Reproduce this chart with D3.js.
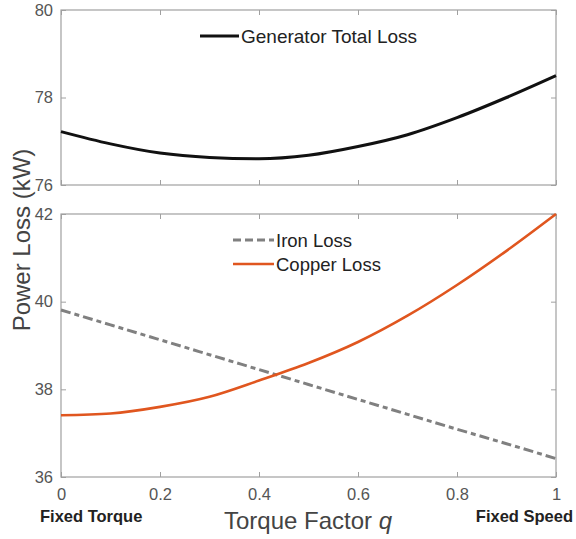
<!DOCTYPE html>
<html lang="en">
<head>
<meta charset="UTF-8">
<title>Power Loss vs Torque Factor</title>
<script src="https://d3js.org/d3.v7.min.js"></script>
<style>
  body { margin: 0; background: #fff; }
  text { font-family: "Liberation Sans", Arial, sans-serif; }
</style>
</head>
<body>
<div id="chart"></div>
<script>
// data
var q = [0, 0.1, 0.2, 0.3, 0.4, 0.5, 0.6, 0.7, 0.8, 0.9, 1.0];
var totalLoss = [77.22, 76.94, 76.73, 76.63, 76.6, 76.68, 76.88, 77.15, 77.54, 78.0, 78.5];
var ironLoss = [39.81, 39.47, 39.13, 38.79, 38.45, 38.11, 37.77, 37.43, 37.09, 36.76, 36.42];
var copperLoss = [37.41, 37.45, 37.6, 37.83, 38.2, 38.6, 39.08, 39.68, 40.38, 41.16, 42.0];
var xTicks = [0, 0.2, 0.4, 0.6, 0.8, 1];
var topTicks = [76, 78, 80];
var bottomTicks = [36, 38, 40, 42];

var width = 576, height = 539;
var left = 61, right = 556;

var svg = d3.select("#chart").append("svg")
    .attr("width", width)
    .attr("height", height);

var x = d3.scaleLinear().domain([0, 1]).range([left, right]);
var yTop = d3.scaleLinear().domain([76, 80]).range([185, 10]);
var yBot = d3.scaleLinear().domain([36, 42]).range([477, 214]);

// draws a matlab style box with ticks on all four sides
function drawBox(y, yt, showX) {
    var r = y.range();
    var g = svg.append("g");
    g.append("rect")
        .attr("x", left).attr("y", r[1])
        .attr("width", right - left).attr("height", r[0] - r[1])
        .attr("fill", "none").attr("stroke", "#a0a0a0").attr("stroke-width", 1.2);

    var ax = g.append("g").attr("transform", "translate(0," + r[0] + ")")
        .call(d3.axisBottom(x).tickValues(xTicks).tickSizeInner(-5).tickSizeOuter(0)
            .tickPadding(11).tickFormat(showX ? d3.format("") : ""));
    var axTop = g.append("g").attr("transform", "translate(0," + r[1] + ")")
        .call(d3.axisTop(x).tickValues(xTicks).tickSizeInner(-5).tickSizeOuter(0).tickFormat(""));
    var ay = g.append("g").attr("transform", "translate(" + left + ",0)")
        .call(d3.axisLeft(y).tickValues(yt).tickSizeInner(-5).tickSizeOuter(0)
            .tickPadding(8).tickFormat(d3.format("d")));
    var ayR = g.append("g").attr("transform", "translate(" + right + ",0)")
        .call(d3.axisRight(y).tickValues(yt).tickSizeInner(-5).tickSizeOuter(0).tickFormat(""));

    [ax, axTop, ay, ayR].forEach(function(a) {
        a.attr("font-size", null).attr("font-family", null);
        a.select(".domain").remove();
        a.selectAll("line").attr("stroke", "#a0a0a0");
        a.selectAll("text").attr("fill", "#555").style("font-size", "16.5px");
    });
}

drawBox(yTop, topTicks, false);
drawBox(yBot, bottomTicks, true);

function lineFor(y, vals) {
    return d3.line().curve(d3.curveMonotoneX)
        .x(function(d, i) { return x(q[i]); })
        .y(function(d) { return y(d); })(vals);
}

svg.append("path").attr("d", lineFor(yTop, totalLoss))
    .attr("fill", "none").attr("stroke", "#111").attr("stroke-width", 3);

svg.append("path").attr("d", lineFor(yBot, ironLoss))
    .attr("fill", "none").attr("stroke", "#808080").attr("stroke-width", 3)
    .attr("stroke-dasharray", "10,4,5,4");

svg.append("path").attr("d", lineFor(yBot, copperLoss))
    .attr("fill", "none").attr("stroke", "#e0561f").attr("stroke-width", 2.6);

// legends
svg.append("line").attr("x1", 200).attr("x2", 239).attr("y1", 36).attr("y2", 36)
    .attr("stroke", "#111").attr("stroke-width", 3);
svg.append("text").attr("x", 241).attr("y", 43).text("Generator Total Loss")
    .attr("fill", "#222").style("font-size", "19px");

svg.append("line").attr("x1", 233).attr("x2", 274).attr("y1", 240).attr("y2", 240)
    .attr("stroke", "#808080").attr("stroke-width", 3).attr("stroke-dasharray", "8,4");
svg.append("text").attr("x", 276).attr("y", 247).text("Iron Loss")
    .attr("fill", "#222").style("font-size", "18.5px");

svg.append("line").attr("x1", 233).attr("x2", 274).attr("y1", 264).attr("y2", 264)
    .attr("stroke", "#e0561f").attr("stroke-width", 2.6);
svg.append("text").attr("x", 276).attr("y", 271).text("Copper Loss")
    .attr("fill", "#222").style("font-size", "18.5px");

// axis labels
svg.append("text")
    .attr("transform", "translate(30,240) rotate(-90)")
    .attr("text-anchor", "middle")
    .attr("fill", "#444").style("font-size", "24px")
    .text("Power Loss (kW)");

var xl = svg.append("text").attr("x", 308).attr("y", 529)
    .attr("text-anchor", "middle").attr("fill", "#444").style("font-size", "24px");
xl.append("tspan").text("Torque Factor ");
xl.append("tspan").attr("font-style", "italic").text("q");

svg.append("text").attr("x", 40).attr("y", 522).text("Fixed Torque")
    .attr("fill", "#222").attr("font-weight", "bold").style("font-size", "16.5px");
svg.append("text").attr("x", 573).attr("y", 522).attr("text-anchor", "end").text("Fixed Speed")
    .attr("fill", "#222").attr("font-weight", "bold").style("font-size", "16.5px");
</script>
</body>
</html>
